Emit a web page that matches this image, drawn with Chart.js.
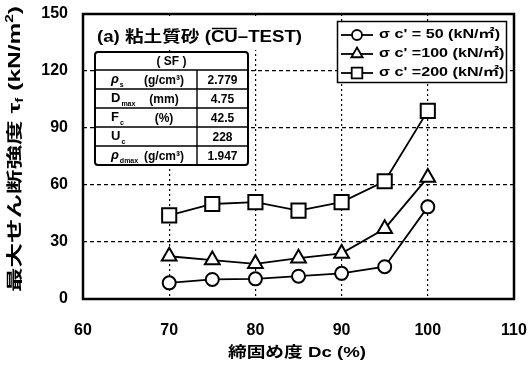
<!DOCTYPE html>
<html>
<head>
<meta charset="utf-8">
<script src="https://cdn.jsdelivr.net/npm/chart.js@4.4.1/dist/chart.umd.min.js"></script>
<style>
  html, body { margin: 0; padding: 0; background: #fff; }
  #wrap { width: 530px; height: 367px; }
</style>
</head>
<body>
<div id="wrap"><canvas id="c" width="530" height="367"></canvas></div>
<script>
// Degree of compaction Dc (%)
const densities = [70, 75, 80, 85, 90, 95, 100];
// Maximum shear strength τf (kN/m²) for each confining pressure
const tau50  = [8.5, 10.3, 10.6, 12.0, 13.5, 17.0, 48.5];
const tau100 = [22.5, 20.5, 18.5, 21.5, 24.0, 37.0, 64.0];
const tau200 = [44.0, 50.0, 51.0, 46.5, 51.0, 62.0, 99.0];

const seriesLabels = ["σ c' = 50 (kN/㎡)", "σ c' =100 (kN/㎡)", "σ c' =200 (kN/㎡)"];
const seriesStyles = ['circle', 'triangle', 'rect'];

const chartTitle = ['(a) 粘土質砂 (', 'CU', '–TEST)'];
const tableHeader = '( SF )';
const tableSymbols = ['ρ', 'D', 'F', 'U', 'ρ'];
const tableSubs = ['s', 'max', 'c', 'c', 'dmax'];
const tableUnits = ['(g/cm³)', '(mm)', '(%)', '', '(g/cm³)'];
const tableValues = ['2.779', '4.75', '42.5', '228', '1.947'];

const LAT = '"Liberation Sans", Arial, "Noto Sans CJK JP", sans-serif';
const markerRadius = { circle: 6.5, triangle: 8.5, rect: 10 };
const legendRadius = { circle: 5, triangle: 6.5, rect: 7.5 };

function toPoints(ys) { return densities.map((d, i) => ({ x: d, y: ys[i] })); }

function drawMarker(ctx, style, x, y, r) {
  ctx.save();
  ctx.fillStyle = '#fff';
  ctx.strokeStyle = '#000';
  ctx.lineWidth = 1.8;
  ctx.beginPath();
  if (style === 'circle') {
    ctx.arc(x, y, r, 0, Math.PI * 2);
  } else if (style === 'triangle') {
    ctx.moveTo(x, y - r);
    ctx.lineTo(x + r * Math.sin(Math.PI / 3), y + r * 0.5);
    ctx.lineTo(x - r * Math.sin(Math.PI / 3), y + r * 0.5);
    ctx.closePath();
  } else {
    const s = r * Math.SQRT1_2;
    ctx.rect(x - s, y - s, 2 * s, 2 * s);
  }
  ctx.fill();
  ctx.stroke();
  ctx.restore();
}

// Draws a sequence of [text, font, dy] runs, squeezed/stretched to a target width
function drawRuns(ctx, runs, x, y, targetW, align) {
  let w = 0;
  runs.forEach(r => { ctx.font = r[1]; w += ctx.measureText(r[0]).width; });
  const sx = targetW ? targetW / w : 1;
  ctx.save();
  ctx.translate(x, y);
  ctx.scale(sx, 1);
  let cx = align === 'center' ? -w / 2 : 0;
  ctx.textAlign = 'left';
  ctx.textBaseline = 'middle';
  const pos = [];
  runs.forEach(r => {
    ctx.font = r[1];
    const rw = ctx.measureText(r[0]).width;
    ctx.fillText(r[0], cx, r[2] || 0);
    pos.push([x + cx * sx, rw * sx]);
    cx += rw;
  });
  ctx.restore();
  return pos;
}

const decor = {
  id: 'decor',
  beforeDatasetsDraw(chart) {
    const ctx = chart.ctx;
    ctx.save();

    // panel title with overline on CU
    ctx.fillStyle = '#fff';
    ctx.fillRect(90, 16, 220, 34);
    ctx.fillStyle = '#000';
    const tf = 'bold 16px ' + LAT;
    const pos = drawRuns(ctx, chartTitle.map(t => [t, tf, 0]), 97, 38, 205, 'left');
    ctx.strokeStyle = '#000';
    ctx.lineWidth = 1.5;
    ctx.beginPath();
    ctx.moveTo(pos[1][0] + 1, 28.5);
    ctx.lineTo(pos[1][0] + pos[1][1] - 1, 28.5);
    ctx.stroke();

    // soil property table
    const x0 = 95, x1 = 248, xm = 197, y0 = 52, yh = 70, rh = 19;
    const y1 = yh + rh * tableValues.length;
    ctx.fillStyle = '#fff';
    ctx.fillRect(x0, y0, x1 - x0, y1 - y0);
    ctx.lineWidth = 1.4;
    ctx.beginPath();
    ctx.moveTo(x0, yh); ctx.lineTo(x1, yh);
    for (let i = 1; i < tableValues.length; i++) {
      ctx.moveTo(x0, yh + rh * i); ctx.lineTo(x1, yh + rh * i);
    }
    ctx.moveTo(xm, yh); ctx.lineTo(xm, y1);
    ctx.stroke();
    ctx.lineWidth = 2;
    ctx.beginPath();
    ctx.roundRect(x0, y0, x1 - x0, y1 - y0, 3);
    ctx.stroke();

    ctx.fillStyle = '#000';
    ctx.textBaseline = 'middle';
    ctx.textAlign = 'center';
    ctx.font = 'bold 12px ' + LAT;
    ctx.fillText(tableHeader, (x0 + x1) / 2, (y0 + yh) / 2 + 1);
    tableValues.forEach((v, i) => {
      const cy = yh + rh * i + rh / 2 + 1;
      ctx.textAlign = 'center';
      ctx.font = 'bold 12px ' + LAT;
      ctx.fillText(v, (xm + x1) / 2, cy);
      ctx.fillText(tableUnits[i], 164, cy);
      ctx.textAlign = 'left';
      ctx.font = (tableSymbols[i] === 'ρ' ? 'italic ' : '') + 'bold 13px ' + LAT;
      ctx.fillText(tableSymbols[i], 111, cy - 1);
      const sw = ctx.measureText(tableSymbols[i]).width;
      ctx.font = 'bold 7px ' + LAT;
      ctx.fillText(tableSubs[i], 111 + sw + 1, cy + 5);
    });

    // legend box
    const lx0 = 337, lx1 = 507, ly0 = 21, ly1 = 83;
    ctx.fillStyle = '#fff';
    ctx.fillRect(lx0, ly0, lx1 - lx0, ly1 - ly0);
    ctx.strokeStyle = '#000';
    ctx.lineWidth = 1.5;
    ctx.strokeRect(lx0 + 0.5, ly0 + 0.5, lx1 - lx0 - 1, ly1 - ly0 - 1);
    const rowsY = [35, 54, 73];
    ctx.font = 'bold 12px ' + LAT;
    const lw = ctx.measureText(seriesLabels[0]).width;
    const lsx = 121 / lw;
    chart.data.datasets.forEach((ds, i) => {
      const y = rowsY[i];
      ctx.strokeStyle = '#000';
      ctx.lineWidth = 1.8;
      ctx.beginPath();
      ctx.moveTo(341, y); ctx.lineTo(373, y);
      ctx.stroke();
      drawMarker(ctx, seriesStyles[i], 357, y, legendRadius[seriesStyles[i]]);
      ctx.save();
      ctx.fillStyle = '#000';
      ctx.font = 'bold 12px ' + LAT;
      ctx.textAlign = 'left';
      ctx.textBaseline = 'middle';
      ctx.translate(379, y);
      ctx.scale(lsx, 1);
      ctx.fillText(seriesLabels[i], 0, 0);
      ctx.restore();
    });
    ctx.restore();
  },
  afterDraw(chart) {
    const ctx = chart.ctx;
    const a = chart.chartArea;
    ctx.save();
    // plot frame
    ctx.strokeStyle = '#000';
    ctx.lineWidth = 2.5;
    ctx.strokeRect(a.left, a.top, a.right - a.left, a.bottom - a.top);

    ctx.fillStyle = '#000';
    // x axis title
    const xf = 'bold 15px ' + LAT;
    drawRuns(ctx, [['締固め度 Dc (%)', xf, 0]], 297, 353, 138, 'center');

    // y axis title, rotated
    ctx.save();
    ctx.translate(16, 149);
    ctx.rotate(-Math.PI / 2);
    const yf = 'bold 16px ' + LAT;
    const sf = 'bold 10px ' + LAT;
    drawRuns(ctx, [
      ['最大せん断強度 τ', yf, 0],
      ['f', sf, 4],
      [' (kN/m', yf, 0],
      ['2', sf, -6],
      [')', yf, 0]
    ], 0, 0, 286, 'center');
    ctx.restore();
    ctx.restore();
  }
};

const datasets = [tau50, tau100, tau200].map((vals, i) => ({
  label: seriesLabels[i],
  data: toPoints(vals),
  borderColor: '#000',
  borderWidth: 1.8,
  pointStyle: seriesStyles[i],
  pointRadius: markerRadius[seriesStyles[i]],
  pointHoverRadius: markerRadius[seriesStyles[i]],
  pointBackgroundColor: '#fff',
  pointBorderColor: '#000',
  pointBorderWidth: 2,
  tension: 0,
  fill: false
}));

new Chart(document.getElementById('c'), {
  type: 'line',
  data: { datasets },
  plugins: [decor],
  options: {
    responsive: false,
    animation: false,
    devicePixelRatio: 1,
    layout: { padding: { top: 14, right: 16, left: 0, bottom: 0 } },
    plugins: { legend: { display: false }, tooltip: { enabled: false }, title: { display: false } },
    scales: {
      x: {
        type: 'linear',
        min: 60, max: 110,
        ticks: { stepSize: 10, color: '#000', font: { family: LAT, size: 16, weight: 'bold' }, padding: 22, maxRotation: 0 },
        grid: {
          color: c => (c.tick && (c.tick.value === 60 || c.tick.value === 110)) ? 'rgba(0,0,0,0)' : '#000',
          lineWidth: 1.2, drawTicks: false
        },
        border: { display: false, dash: [2, 3] },
        afterFit: s => { s.height = 68; s.paddingLeft = 0; s.paddingRight = 0; }
      },
      y: {
        min: 0, max: 150,
        ticks: { stepSize: 30, color: '#000', font: { family: LAT, size: 16, weight: 'bold' }, padding: 15 },
        grid: {
          color: c => (c.tick && (c.tick.value === 0 || c.tick.value === 150)) ? 'rgba(0,0,0,0)' : '#000',
          lineWidth: 1.2, drawTicks: false
        },
        border: { display: false, dash: [4, 3] },
        afterFit: s => { s.width = 83; s.paddingTop = 0; s.paddingBottom = 0; }
      }
    }
  }
});
</script>
</body>
</html>
